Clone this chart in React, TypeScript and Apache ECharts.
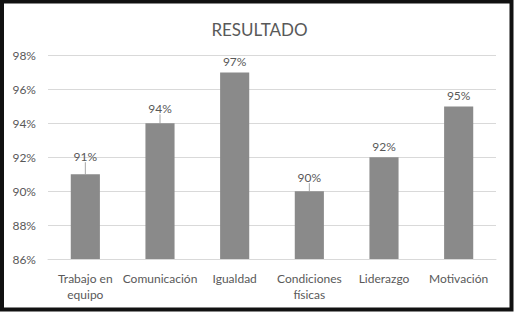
import React, { useEffect, useRef } from "react";
import * as echarts from "echarts";

const title = "RESULTADO";
const categories = ["Trabajo en\nequipo", "Comunicación", "Igualdad", "Condiciones\nfísicas", "Liderazgo", "Motivación"];
const values = [91, 94, 97, 90, 92, 95];
const yMin = 86;
const yMax = 98;
const yStep = 2;

// Extra upward shift of some data labels (with leader lines), as in the reference
const labelShift: Record<number, number> = { 0: -7, 1: -4, 3: -3 };

export default function App() {
  const ref = useRef<HTMLDivElement>(null);
  useEffect(() => {
    const chart = echarts.init(ref.current!, null, { renderer: "svg" });
    const font = "Lato, 'Open Sans', sans-serif";
    chart.setOption({
      animation: false,
      backgroundColor: "#ffffff",
      textStyle: { fontFamily: font },
      title: {
        text: title,
        left: "center",
        top: 16,
        textStyle: { fontFamily: font, fontSize: 17, fontWeight: "normal", color: "#595959" },
      },
      grid: { left: 48, right: 23, top: 55.5, bottom: 56, containLabel: false },
      xAxis: {
        type: "category",
        data: categories,
        axisLine: { show: true, lineStyle: { color: "#d9d9d9", width: 1 } },
        axisTick: { show: false },
        axisLabel: { color: "#595959", fontSize: 12, fontFamily: font, margin: 11, lineHeight: 16, interval: 0 },
      },
      yAxis: {
        type: "value",
        min: yMin,
        max: yMax,
        interval: yStep,
        axisLine: { show: false },
        axisTick: { show: false },
        splitLine: { lineStyle: { color: "#d9d9d9", width: 1 } },
        axisLabel: { color: "#595959", fontSize: 12, fontFamily: font, margin: 12, formatter: "{value}%" },
      },
      series: [
        {
          type: "bar",
          barWidth: "39%",
          itemStyle: { color: "#8a8a8a" },
          label: {
            show: true,
            position: "top",
            distance: 5,
            color: "#595959",
            fontSize: 12,
            fontFamily: font,
            formatter: "{c}%",
          },
          labelLine: { show: false, lineStyle: { color: "#a6a6a6", width: 1 } },
          labelLayout: (p: any) => ({ dy: labelShift[p.dataIndex] || 0 }),
          data: values.map((v, i) => ({
            value: v,
            labelLine: { show: labelShift[i] !== undefined },
          })),
        },
      ],
      graphic: [
        {
          type: "rect",
          shape: { x: 2, y: 1.5, width: 509.5, height: 308 },
          style: { fill: "none", stroke: "#111111", lineWidth: 4 },
          silent: true,
          z: 100,
        },
      ],
    });
    return () => chart.dispose();
  }, []);
  return (
    <div style={{ position: "fixed", left: 0, top: 0, width: 519, height: 315, background: "#fff" }}>
      <div ref={ref} style={{ width: 519, height: 315 }} />
    </div>
  );
}
